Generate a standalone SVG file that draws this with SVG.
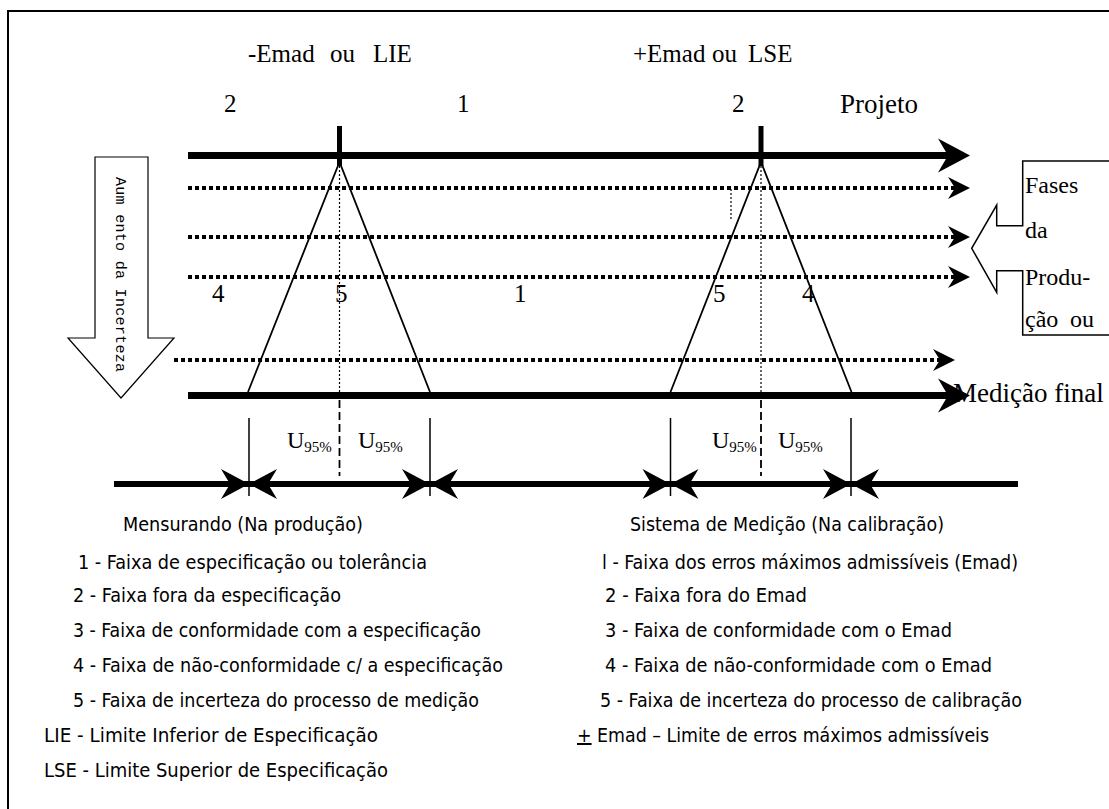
<svg xmlns="http://www.w3.org/2000/svg" width="1109" height="809" viewBox="0 0 1109 809">
  <defs>
    <style>
      .serif{font-family:'Liberation Serif','Times New Roman',serif;fill:#000}
      .lg{font-family:'DejaVu Sans Condensed','DejaVu Sans',sans-serif;font-size:20px;fill:#000}
      .thick{stroke:#000;stroke-width:7;fill:none}
      .dots{stroke:#000;stroke-width:4;stroke-dasharray:4 3;fill:none}
      .cone{stroke:#000;stroke-width:1.8;fill:none}
      .tick{stroke:#000;stroke-width:1.5;fill:none}
      .axis{stroke:#000;stroke-width:1.2;stroke-dasharray:2 2;fill:none}
      .dash{stroke:#000;stroke-width:1.8;stroke-dasharray:8 4;fill:none}
    </style>
    <polygon id="headBig" points="0,0 -32,-17 -22,0 -32,17"/>
    <polygon id="headDot" points="0,0 -22,-11 -15,0 -22,11"/>
    <polygon id="headDim" points="0,0 -28,-15 -19,0 -28,15"/>
  </defs>

  <!-- outer frame -->
  <rect x="8" y="11" width="1120" height="820" fill="#fff" stroke="#000" stroke-width="2"/>

  <!-- limit labels -->
  <g id="labels-top" class="serif" font-size="25">
    <text x="248" y="62">-Emad</text>
    <text x="330" y="62">ou</text>
    <text x="373" y="62">LIE</text>
    <text x="633" y="62">+Emad</text>
    <text x="712" y="62">ou</text>
    <text x="748" y="62">LSE</text>
    <text x="224" y="112">2</text>
    <text x="457" y="112">1</text>
    <text x="732" y="112">2</text>
    <text x="840" y="113" font-size="27">Projeto</text>
    <text x="212" y="302">4</text>
    <text x="335" y="302">5</text>
    <text x="514" y="302">1</text>
    <text x="713" y="302">5</text>
    <text x="802" y="302">4</text>
    <text x="953" y="402" font-size="27">Medição final</text>
  </g>

  <!-- uncertainty growth arrow -->
  <g id="node-incerteza">
    <polygon points="95,157 148,157 148,338 174,338 121,398 68,338 95,338" fill="#fff" stroke="#000" stroke-width="1.2"/>
    <text transform="translate(121,177) rotate(90)" x="0" y="5" font-family="'Liberation Mono','Courier New',monospace" font-size="15" textLength="195" lengthAdjust="spacing" fill="#000">Aum ento da Incerteza</text>
  </g>

  <!-- production phases callout -->
  <g id="node-fases">
    <path d="M1112,161 H1022.7 V225.7 H996.7 V205 L971.7,248.3 L996.7,292.3 V270.7 H1022.7 V335 H1112" fill="#fff" stroke="#000" stroke-width="1.5"/>
    <g class="serif" font-size="24">
      <text x="1025" y="193">Fases</text>
      <text x="1025" y="238">da</text>
      <text x="1025" y="285">Produ-</text>
      <text x="1025" y="327">ção</text>
      <text x="1070" y="327">ou</text>
    </g>
  </g>

  <!-- phase lines -->
  <g id="connectors">
    <line class="thick" x1="188" y1="155.5" x2="952" y2="155.5"/>
    <use href="#headBig" transform="translate(970,155.5)"/>
    <line class="dots" x1="188" y1="188" x2="955" y2="188"/>
    <use href="#headDot" transform="translate(970,188)"/>
    <line class="dots" x1="188" y1="237" x2="955" y2="237"/>
    <use href="#headDot" transform="translate(970,237)"/>
    <line class="dots" x1="188" y1="277" x2="955" y2="277"/>
    <use href="#headDot" transform="translate(970,277)"/>
    <line class="dots" x1="174" y1="360" x2="940" y2="360"/>
    <use href="#headDot" transform="translate(955,360)"/>
    <line class="thick" x1="188" y1="395.5" x2="952" y2="395.5"/>
    <use href="#headBig" transform="translate(970,395.5)"/>

    <!-- limit ticks -->
    <rect x="337" y="126" width="5" height="40"/>
    <rect x="758.5" y="126" width="5" height="40"/>

    <!-- uncertainty cones -->
    <polyline class="cone" points="248,392 339.5,162 430,392"/>
    <polyline class="cone" points="670.5,392 761,162 851.5,392"/>
    <line class="axis" x1="339.5" y1="166" x2="339.5" y2="392"/>
    <line class="axis" x1="761" y1="166" x2="761" y2="392"/>
    <line class="axis" x1="731" y1="189" x2="731" y2="221"/>
    <line class="dash" x1="339.5" y1="400" x2="339.5" y2="476"/>
    <line class="dash" x1="761" y1="400" x2="761" y2="476"/>

    <!-- dimension ticks -->
    <line class="tick" x1="249" y1="418" x2="249" y2="496"/>
    <line class="tick" x1="430" y1="418" x2="430" y2="496"/>
    <line class="tick" x1="670.5" y1="418" x2="670.5" y2="496"/>
    <line class="tick" x1="851" y1="418" x2="851" y2="496"/>

    <!-- dimension line with arrowheads -->
    <line x1="114" y1="484" x2="1018" y2="484" stroke="#000" stroke-width="6"/>
    <use href="#headDim" transform="translate(249,484)"/>
    <use href="#headDim" transform="translate(249,484) scale(-1,1)"/>
    <use href="#headDim" transform="translate(430,484)"/>
    <use href="#headDim" transform="translate(430,484) scale(-1,1)"/>
    <use href="#headDim" transform="translate(670.5,484)"/>
    <use href="#headDim" transform="translate(670.5,484) scale(-1,1)"/>
    <use href="#headDim" transform="translate(851,484)"/>
    <use href="#headDim" transform="translate(851,484) scale(-1,1)"/>
  </g>

  <!-- expanded uncertainty labels -->
  <g id="labels-u" class="serif" font-size="24">
    <text x="287" y="448">U<tspan font-size="15" dy="4">95%</tspan></text>
    <text x="358" y="448">U<tspan font-size="15" dy="4">95%</tspan></text>
    <text x="712" y="448">U<tspan font-size="15" dy="4">95%</tspan></text>
    <text x="778" y="448">U<tspan font-size="15" dy="4">95%</tspan></text>
  </g>

  <!-- legend: measurand -->
  <g id="legend-left" class="lg">
    <text x="123" y="531" textLength="240" lengthAdjust="spacingAndGlyphs">Mensurando (Na produção)</text>
    <text x="78" y="569" textLength="349" lengthAdjust="spacingAndGlyphs">1 - Faixa de especificação ou tolerância</text>
    <text x="73" y="602" textLength="268" lengthAdjust="spacingAndGlyphs">2 - Faixa fora da especificação</text>
    <text x="73" y="637" textLength="408" lengthAdjust="spacingAndGlyphs">3 - Faixa de conformidade com a especificação</text>
    <text x="73" y="672" textLength="430" lengthAdjust="spacingAndGlyphs">4 - Faixa de não-conformidade c/ a especificação</text>
    <text x="73" y="707" textLength="406" lengthAdjust="spacingAndGlyphs">5 - Faixa de incerteza do processo de medição</text>
    <text x="44" y="742" textLength="334" lengthAdjust="spacingAndGlyphs">LIE - Limite Inferior de Especificação</text>
    <text x="44" y="777" textLength="344" lengthAdjust="spacingAndGlyphs">LSE - Limite Superior de Especificação</text>
  </g>

  <!-- legend: measuring system -->
  <g id="legend-right" class="lg">
    <text x="630" y="531" textLength="314" lengthAdjust="spacingAndGlyphs">Sistema de Medição (Na calibração)</text>
    <text x="602" y="569" textLength="416" lengthAdjust="spacingAndGlyphs">l - Faixa dos erros máximos admissíveis (Emad)</text>
    <text x="605" y="602" textLength="202" lengthAdjust="spacingAndGlyphs">2 - Faixa fora do Emad</text>
    <text x="605" y="637" textLength="347" lengthAdjust="spacingAndGlyphs">3 - Faixa de conformidade com o Emad</text>
    <text x="605" y="672" textLength="387" lengthAdjust="spacingAndGlyphs">4 - Faixa de não-conformidade com o Emad</text>
    <text x="600" y="707" textLength="422" lengthAdjust="spacingAndGlyphs">5 - Faixa de incerteza do processo de calibração</text>
    <text x="577" y="742" textLength="412" lengthAdjust="spacingAndGlyphs"><tspan text-decoration="underline">+</tspan> Emad – Limite de erros máximos admissíveis</text>
  </g>
</svg>
